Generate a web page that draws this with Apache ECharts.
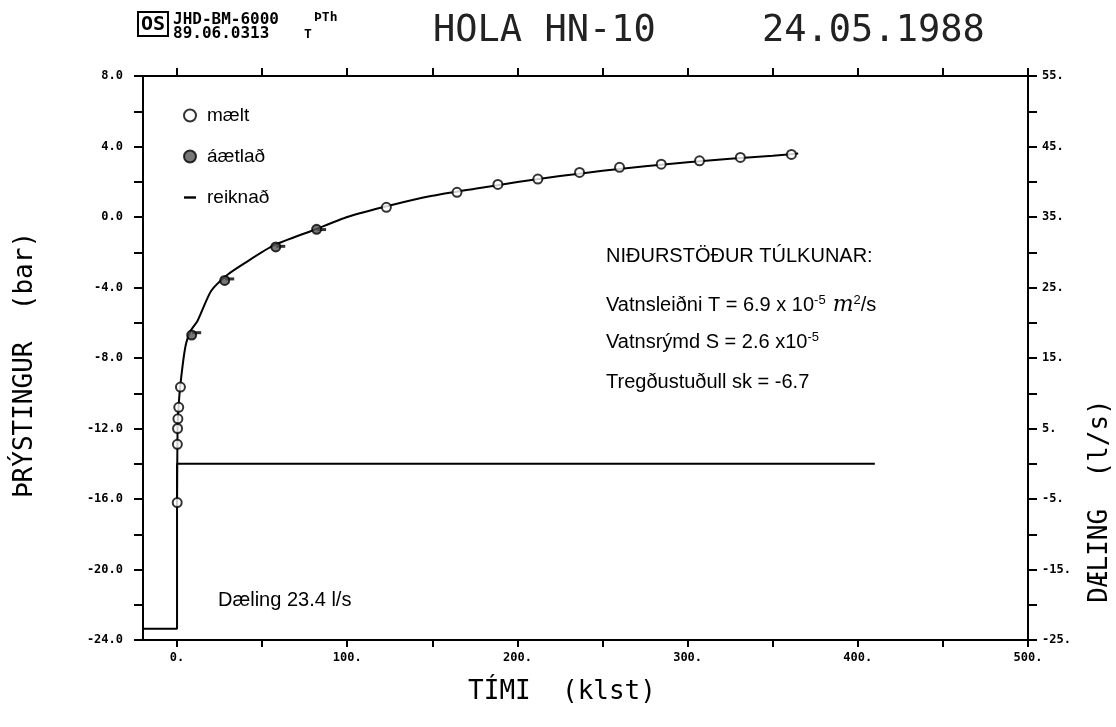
<!DOCTYPE html>
<html>
<head>
<meta charset="utf-8">
<script src="https://cdn.jsdelivr.net/npm/echarts@6/dist/echarts.min.js"></script>
<style>html,body{margin:0;padding:0;background:#fff}#c{width:1116px;height:727px}</style>
</head>
<body>
<div id="c"></div>
<script>
// ---- data ----
const measuredT = [0.1, 0.2, 0.3, 0.5, 1.0, 2.0, 123, 164.5, 188.5, 212, 236.5, 260, 284.5, 307, 331, 361];
const measuredP = [-16.2, -12.9, -12.0, -11.45, -10.8, -9.65, 0.55, 1.4, 1.85, 2.15, 2.53, 2.82, 3.0, 3.19, 3.38, 3.55];
const estimatedT = [8.6, 28, 58, 82];
const estimatedP = [-6.7, -3.6, -1.7, -0.7];
const calcT = [8.6, 28, 58, 82];
const calcP = [-6.45, -3.4, -1.55, -0.6];
const curveT = [0, 0.3, 1, 2, 4, 5.5, 8, 12, 20, 30, 40, 57, 80, 100, 125, 150, 175, 200, 225, 250, 275, 300, 325, 350, 365];
const curveP = [-16.3, -12.0, -10.6, -9.5, -7.9, -7.1, -6.45, -5.9, -4.2, -3.25, -2.6, -1.6, -0.75, 0.0, 0.65, 1.2, 1.6, 1.98, 2.32, 2.62, 2.88, 3.1, 3.3, 3.48, 3.6];
const flowT = [-20, 0, 0, 410];
const flowQ = [-23.4, -23.4, 0, 0];
const xTickValues = [0, 50, 100, 150, 200, 250, 300, 350, 400, 450, 500];
const xLabelValues = [0, 100, 200, 300, 400, 500];

const zip = (a, b) => a.map((v, i) => [v, b[i]]);
const mono = '"DejaVu Sans Mono", monospace';
const sans = '"Liberation Sans", Arial, sans-serif';
const tickLabel = {fontFamily: mono, fontWeight: 'bold', fontSize: 12, color: '#000'};
const axLine = {show: true, onZero: false, lineStyle: {color: '#000', width: 2}};

const chart = echarts.init(document.getElementById('c'));
chart.setOption({
  animation: false,
  backgroundColor: '#fff',
  grid: {left: 143, right: 88, top: 76, bottom: 87, containLabel: false},
  legend: {
    orient: 'vertical', left: 178, top: 101, itemGap: 22, itemWidth: 12, itemHeight: 12,
    textStyle: {fontFamily: sans, fontSize: 19, color: '#000', padding: [0, 0, 0, 6]},
    data: [
      {name: 'mælt', icon: 'emptyCircle'},
      {name: 'áætlað', icon: 'circle'},
      {name: 'reiknað', icon: 'path://M0,0h10v2h-10z'}
    ]
  },
  xAxis: [{
    type: 'value', min: -20, max: 500, position: 'bottom',
    axisLine: axLine,
    axisTick: {show: true, length: 7, inside: false, customValues: xTickValues, lineStyle: {color: '#000', width: 2}},
    axisLabel: {customValues: xLabelValues, formatter: v => v + '.', margin: 12, ...tickLabel},
    splitLine: {show: false}
  }, {
    type: 'value', min: -20, max: 500, position: 'top',
    axisLine: axLine,
    axisTick: {show: true, length: 8, customValues: xTickValues, lineStyle: {color: '#000', width: 2}},
    axisLabel: {show: false}, splitLine: {show: false}
  }],
  yAxis: [{
    type: 'value', min: -24, max: 8, interval: 4, position: 'left',
    axisLine: axLine,
    axisTick: {show: true, length: 9, lineStyle: {color: '#000', width: 2}},
    minorTick: {show: true, splitNumber: 2, length: 9, lineStyle: {color: '#000', width: 2}},
    axisLabel: {formatter: v => v.toFixed(1), margin: 20, ...tickLabel},
    splitLine: {show: false}
  }, {
    type: 'value', min: -25, max: 55, interval: 10, position: 'right',
    axisLine: axLine,
    axisTick: {show: true, length: 9, lineStyle: {color: '#000', width: 2}},
    minorTick: {show: true, splitNumber: 2, length: 9, lineStyle: {color: '#000', width: 2}},
    axisLabel: {formatter: v => v + '.', margin: 14, ...tickLabel},
    splitLine: {show: false}
  }],
  series: [
    {name: 'reiknað', type: 'line', xAxisIndex: 0, yAxisIndex: 0, data: zip(curveT, curveP), smooth: 0.2,
     showSymbol: false, symbol: 'none', lineStyle: {color: '#000', width: 2}, itemStyle: {color: '#000'}, z: 2},
    {name: 'reiknað', type: 'scatter', xAxisIndex: 0, yAxisIndex: 0, data: zip(calcT, calcP),
     symbol: 'rect', symbolSize: [9, 3], symbolOffset: [5, 2], itemStyle: {color: '#000'}, z: 3},
    {name: 'Dæling', type: 'line', xAxisIndex: 0, yAxisIndex: 1, data: zip(flowT, flowQ),
     showSymbol: false, symbol: 'none', lineStyle: {color: '#000', width: 2}, z: 2},
    {name: 'mælt', type: 'scatter', xAxisIndex: 0, yAxisIndex: 0, data: zip(measuredT, measuredP),
     symbol: 'emptyCircle', symbolSize: 9, itemStyle: {color: '#000', borderColor: '#000', borderWidth: 2}, z: 4},
    {name: 'áætlað', type: 'scatter', xAxisIndex: 0, yAxisIndex: 0, data: zip(estimatedT, estimatedP),
     symbol: 'circle', symbolSize: 9, itemStyle: {color: '#555', borderColor: '#000', borderWidth: 2}, z: 4}
  ],
  graphic: [
    {type: 'rect', shape: {x: 138, y: 12, width: 30, height: 24}, style: {fill: 'none', stroke: '#000', lineWidth: 2}},
    {type: 'text', x: 153, y: 25, style: {text: 'OS', font: 'bold 20px ' + mono, fill: '#000', align: 'center', verticalAlign: 'middle'}},
    {type: 'text', x: 173, y: 20, style: {text: 'JHD-BM-6000', font: 'bold 16px ' + mono, fill: '#000', verticalAlign: 'middle'}},
    {type: 'text', x: 173, y: 34, style: {text: '89.06.0313', font: 'bold 16px ' + mono, fill: '#000', verticalAlign: 'middle'}},
    {type: 'text', x: 314, y: 18, style: {text: 'ÞTh', font: 'bold 13px ' + mono, fill: '#000', verticalAlign: 'middle'}},
    {type: 'text', x: 304, y: 35, style: {text: 'T', font: 'bold 13px ' + mono, fill: '#000', verticalAlign: 'middle'}},
    {type: 'text', x: 433, y: 31, style: {text: 'HOLA HN-10', font: '37px "DejaVu Sans Mono", monospace', fill: '#222', verticalAlign: 'middle'}},
    {type: 'text', x: 762, y: 31, style: {text: '24.05.1988', font: '37px "DejaVu Sans Mono", monospace', fill: '#222', verticalAlign: 'middle'}},
    {type: 'text', x: 25, y: 365, rotation: Math.PI / 2, style: {text: 'ÞRÝSTINGUR  (bar)', font: '26px ' + mono, fill: '#000', align: 'center', verticalAlign: 'middle'}},
    {type: 'text', x: 1100, y: 501, rotation: Math.PI / 2, style: {text: 'DÆLING  (l/s)', font: '26px ' + mono, fill: '#000', align: 'center', verticalAlign: 'middle'}},
    {type: 'text', x: 562, y: 692, style: {text: 'TÍMI  (klst)', font: '26px ' + mono, fill: '#000', align: 'center', verticalAlign: 'middle'}},
    {type: 'text', x: 218, y: 600, style: {text: 'Dæling 23.4 l/s', font: '20px ' + sans, fill: '#000', verticalAlign: 'middle'}},
    {type: 'text', x: 606, y: 256, style: {text: 'NIÐURSTÖÐUR TÚLKUNAR:', font: '20px ' + sans, fill: '#000', verticalAlign: 'middle'}},
    {type: 'text', x: 606, y: 305, style: {
      text: '{a|Vatnsleiðni T = 6.9 x 10}{s|-5}{m| m}{s|2}{a|/s}',
      verticalAlign: 'middle', fill: '#000',
      rich: {a: {font: '20px ' + sans}, s: {font: '13px ' + sans, verticalAlign: 'top', padding: [0, 0, 10, 0]},
             m: {font: 'italic 22px "DejaVu Serif", serif'}}
    }},
    {type: 'text', x: 606, y: 342, style: {
      text: '{a|Vatnsrýmd S = 2.6 x10}{s|-5}', verticalAlign: 'middle', fill: '#000',
      rich: {a: {font: '20px ' + sans}, s: {font: '13px ' + sans, padding: [0, 0, 10, 0]}}
    }},
    {type: 'text', x: 606, y: 382, style: {text: 'Tregðustuðull sk = -6.7', font: '20px ' + sans, fill: '#000', verticalAlign: 'middle'}}
  ]
});
</script>
</body>
</html>
